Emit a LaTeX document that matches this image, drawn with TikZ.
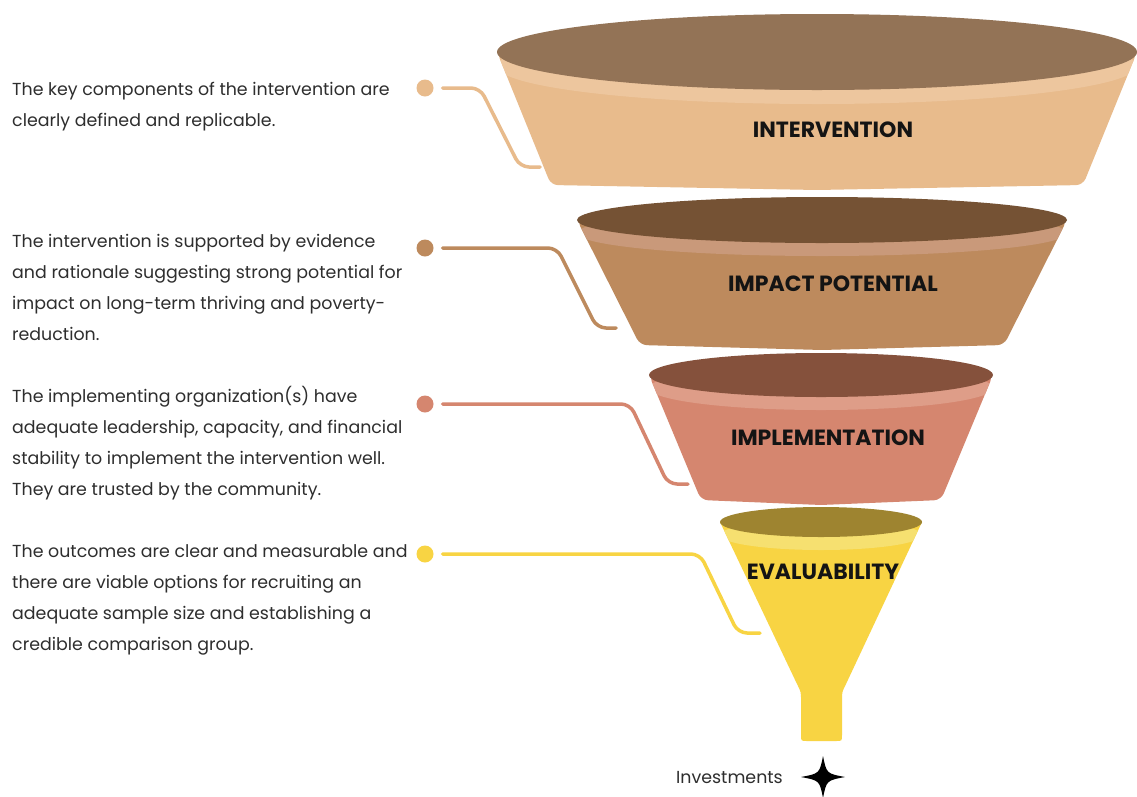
\documentclass[tikz,border=0pt]{standalone}
\usepackage{fontspec}
\setmainfont{Poppins}
\definecolor{txt}{HTML}{2E2E2E}
\definecolor{aDark}{HTML}{937356}
\definecolor{aRim}{HTML}{EDC69E}
\definecolor{aBody}{HTML}{E8BB8C}
\definecolor{bDark}{HTML}{755234}
\definecolor{bRim}{HTML}{C9997A}
\definecolor{bBody}{HTML}{BD8A5D}
\definecolor{cDark}{HTML}{85513C}
\definecolor{cRim}{HTML}{DE9D88}
\definecolor{cBody}{HTML}{D5866F}
\definecolor{dDark}{HTML}{9E8430}
\definecolor{dRim}{HTML}{F6E070}
\definecolor{dBody}{HTML}{F8D443}
\tikzset{
  desc/.style={anchor=base west, align=left, text=txt, inner sep=0pt,
    font=\fontsize{17.4}{31}\selectfont},
  layerlabel/.style={text=black!92, inner sep=0pt, font=\fontsize{22}{24}\selectfont\bfseries},
  dotnode/.style={circle, fill=#1, minimum size=17pt, inner sep=0pt},
  link/.style={draw=#1, line width=3.5pt, line cap=round, rounded corners=9pt},
}
% #1 cx, #2 ty, #3 rx, #4 ry, #5 bw, #6 by, #7 sag, #8 rim offset, #9 layer letter
\newcommand{\funnellayer}[9]{%
  \def\lbody{[rounded corners=7pt] ({#1-#3},#2) -- ({#1-#5},#6) -- (#1,{#6+#7}) -- ({#1+#5},#6) -- ({#1+#3},#2) -- cycle}%
  \fill[#9Body] \lbody;
  \begin{scope}
    \clip \lbody;
    \fill[#9Rim] (#1,{#2+#8}) ellipse [x radius=#3, y radius=#4];
  \end{scope}
  \fill[#9Dark] (#1,#2) ellipse [x radius=#3, y radius=#4];
}
\begin{document}
\begin{tikzpicture}[x=1pt,y=-1pt]
\useasboundingbox (0,0) rectangle (1137,796);
\fill[white] (0,0) rectangle (1137,796);

% ---- layer 4 : evaluability (cone + spout)
\fill[dBody] (720,522) -- (797,684) .. controls (801,692) .. (801,700) -- (801,735)
  .. controls (801,741) .. (807,741) -- (836,741) .. controls (842,741) .. (842,735)
  -- (842,700) .. controls (842,692) .. (846,684) -- (922,522) -- cycle;
\begin{scope}
  \clip (720,522) -- (801,692) -- (842,692) -- (922,522) -- cycle;
  \fill[dRim] (821,535) ellipse [x radius=101, y radius=15];
\end{scope}
\fill[dDark] (821,522) ellipse [x radius=101, y radius=15];

% ---- layer 3 : implementation
\funnellayer{821}{375}{172}{22}{120}{500}{5}{13}{c}
% ---- layer 2 : impact potential
\funnellayer{822}{220}{245}{23}{182}{345}{5}{13}{b}
% ---- layer 1 : intervention
\funnellayer{817}{52}{320}{38}{266}{185}{5}{14}{a}

% ---- labels
\node[layerlabel] (L1) at (833,130) {INTERVENTION};
\node[layerlabel] (L2) at (833,284) {IMPACT POTENTIAL};
\node[layerlabel] (L3) at (828,438) {IMPLEMENTATION};
\node[layerlabel] (L4) at (823,572) {EVALUABILITY};

% ---- descriptions (anchored at the baseline of their last line)
\node[desc] (t1) at (12,126) {The key components of the intervention are\\clearly defined and replicable.};
\node[desc] (t2) at (12,340) {The intervention is supported by evidence\\and rationale suggesting strong potential for\\impact on long-term thriving and poverty-\\reduction.};
\node[desc] (t3) at (12,495) {The implementing organization(s) have\\adequate leadership, capacity, and financial\\stability to implement the intervention well.\\They are trusted by the community.};
\node[desc] (t4) at (12,650) {The outcomes are clear and measurable and\\there are viable options for recruiting an\\adequate sample size and establishing a\\credible comparison group.};

% ---- dots and connectors
\node[dotnode=aBody] (d1) at (425,88) {};
\node[dotnode=bBody] (d2) at (425,248) {};
\node[dotnode=cBody] (d3) at (425,404) {};
\node[dotnode=dBody] (d4) at (425,554) {};
\coordinate (e1) at (540,167);
\coordinate (e2) at (616,328);
\coordinate (e3) at (688,484);
\coordinate (e4) at (760,633);
\draw[link=aBody] ([xshift=9pt]d1.east) -- (480,88) -- (520,167) -- (e1);
\draw[link=bBody] ([xshift=9pt]d2.east) -- (557,248) -- (597,328) -- (e2);
\draw[link=cBody] ([xshift=9pt]d3.east) -- (630,404) -- (668,484) -- (e3);
\draw[link=dBody] ([xshift=9pt]d4.east) -- (700,554) -- (738,633) -- (e4);

% ---- investments star
\coordinate (s) at (823,777);
\fill[black] (823,756) .. controls (826.5,773.5) .. (845,777) .. controls (826.5,780.5) .. (823,798)
  .. controls (819.5,780.5) .. (801,777) .. controls (819.5,773.5) .. cycle;
\node[anchor=east, text=txt, inner sep=0pt, font=\fontsize{17.4}{20}\selectfont] (inv) at (783,777) {Investments};
\end{tikzpicture}
\end{document}
